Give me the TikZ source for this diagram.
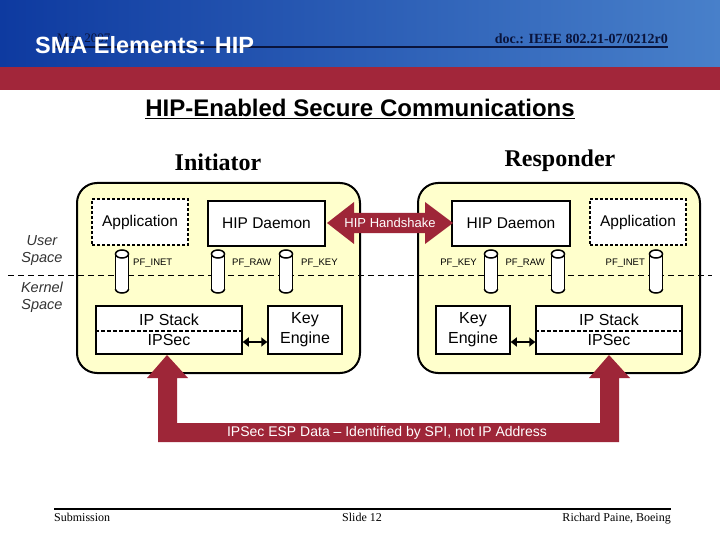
\documentclass[tikz,border=0pt]{standalone}
\usepackage{fontspec}
\setmainfont{Liberation Serif}
\setsansfont{Liberation Sans}
\usetikzlibrary{arrows.meta}
\definecolor{hdrL}{RGB}{14,58,160}
\definecolor{hdrR}{RGB}{72,128,202}
\definecolor{band}{RGB}{162,38,58}
\definecolor{navy}{RGB}{10,20,60}
\definecolor{boxfill}{RGB}{255,255,204}
\definecolor{darkred}{RGB}{158,38,56}
\tikzset{
  hostbox/.style={draw=black, line width=2pt, fill=boxfill, rounded corners=20pt},
  compbox/.style={draw=black, line width=1.5pt, fill=white, inner sep=0pt, font=\sffamily\fontsize{15.5}{16}\selectfont},
  appbox/.style={compbox, dash pattern=on 3pt off 2pt},
  pipe/.pic={
    \fill[white] (-6.5,-17.5) rectangle (6.5,17.5);
    \fill[white] (0,17.5) ellipse (6.5 and 4);
    \begin{scope}
      \clip (-9,17.5) rectangle (9,24);
      \draw[line width=1.5pt] (0,17.5) ellipse (6.5 and 4);
    \end{scope}
    \draw[line width=1.5pt] (-6.5,-17.5) -- (-6.5,17.5) (6.5,-17.5) -- (6.5,17.5);
    \draw[line width=1.5pt, fill=white] (0,-17.5) ellipse (6.5 and 4);
  },
  pflabel/.style={font=\sffamily\fontsize{9.5}{10}\selectfont, inner sep=0pt},
  spacelabel/.style={font=\sffamily\itshape\fontsize{14.5}{17}\selectfont, text=black!80, align=center, inner sep=0pt},
  boxtext/.style={font=\sffamily\fontsize{16}{18}\selectfont, inner sep=0pt, align=center},
  blockarrow/.style={fill=darkred, draw=none},
  smallarrow/.style={{Triangle[length=6pt,width=9pt]}-{Triangle[length=6pt,width=9pt]}, line width=2.5pt, black}
}
\begin{document}
\begin{tikzpicture}[x=1pt,y=-1pt]
\useasboundingbox (0,0) rectangle (720,540);
\fill[white] (0,0) rectangle (720,540);
% header
\shade[left color=hdrL, right color=hdrR] (0,0) rectangle (720,67);
\fill[band] (0,67) rectangle (720,90);
\node[anchor=base west, inner sep=0pt, font=\fontsize{13}{13}\selectfont, text=navy] (date) at (57,43) {May 2007};
\coordinate (rulel) at (55,47);
\coordinate (ruler) at (668,47);
\draw[navy, line width=1.6pt] (rulel) -- (ruler);
\node[anchor=base west, inner sep=0pt, font=\sffamily\bfseries\fontsize{23.5}{24}\selectfont, text=white] (title) at (35,54) {SMA Elements: HIP};
\node[anchor=base east, inner sep=0pt, font=\bfseries\fontsize{14}{14}\selectfont, text=navy] (doc) at (668,44) {doc.: IEEE 802.21-07/0212r0};
% heading
\node[anchor=base, inner sep=0pt, font=\sffamily\bfseries\fontsize{24}{24}\selectfont] (heading) at (360,117) {\underline{HIP-Enabled Secure Communications}};
\node[anchor=base, inner sep=0pt, font=\bfseries\fontsize{24}{24}\selectfont] (init) at (218,171) {Initiator};
\node[anchor=base, inner sep=0pt, font=\bfseries\fontsize{24}{24}\selectfont] (resp) at (560,167) {Responder};
% host boxes
\draw[hostbox] (77,183) rectangle (360,373);
\draw[hostbox] (418,183) rectangle (700,373);
% user / kernel divider
\coordinate (divl) at (8,275);
\coordinate (divr) at (712,275);
\draw[black, line width=1pt, dash pattern=on 6pt off 4pt] (divl) -- (divr);
\node[spacelabel] (user) at (42,251) {User\\Space};
\node[spacelabel] (kernel) at (42,297) {Kernel\\Space};
% initiator components
\node[appbox, minimum width=96pt, minimum height=46pt] (appL) at (140,222) {Application};
\node[compbox, minimum width=117pt, minimum height=45pt] (hipL) at (266.5,223.5) {HIP Daemon};
\pic (inetL) at (122,271.5) {pipe};
\pic (rawL) at (218,271.5) {pipe};
\pic (keyL) at (286,271.5) {pipe};
\node[pflabel, anchor=west] (inetLt) at (133,263) {PF\_INET};
\node[pflabel, anchor=west] (rawLt) at (232,263) {PF\_RAW};
\node[pflabel, anchor=west] (keyLt) at (301,263) {PF\_KEY};
\node[compbox, minimum width=146pt, minimum height=48pt] (ipL) at (169,330) {};
\draw[black, line width=1.5pt, dash pattern=on 4pt off 2pt] (ipL.west |- 0,331) -- (ipL.east |- 0,331);
\node[boxtext] (ipLa) at (169,320) {IP Stack};
\node[boxtext] (ipLb) at (169,340) {IPSec};
\node[compbox, minimum width=74pt, minimum height=48pt, font=\sffamily\fontsize{16}{20}\selectfont, align=center] (keL) at (305,330) {Key\\Engine};
\draw[smallarrow] (ipL.east |- 0,342) -- (keL.west |- 0,342);
% responder components
\node[compbox, minimum width=118pt, minimum height=45pt] (hipR) at (511,223.5) {HIP Daemon};
\node[appbox, minimum width=96pt, minimum height=46pt] (appR) at (638,222) {Application};
\pic (keyR) at (491,271.5) {pipe};
\pic (rawR) at (558,271.5) {pipe};
\pic (inetR) at (656,271.5) {pipe};
\node[pflabel, anchor=east] (keyRt) at (477,263) {PF\_KEY};
\node[pflabel, anchor=east] (rawRt) at (545,263) {PF\_RAW};
\node[pflabel, anchor=east] (inetRt) at (645,263) {PF\_INET};
\node[compbox, minimum width=74pt, minimum height=48pt, font=\sffamily\fontsize{16}{20}\selectfont, align=center] (keR) at (473,330) {Key\\Engine};
\node[compbox, minimum width=146pt, minimum height=48pt] (ipR) at (609,330) {};
\draw[black, line width=1.5pt, dash pattern=on 4pt off 2pt] (ipR.west |- 0,331) -- (ipR.east |- 0,331);
\node[boxtext] (ipRa) at (609,320) {IP Stack};
\node[boxtext] (ipRb) at (609,340) {IPSec};
\draw[smallarrow] (keR.east |- 0,342) -- (ipR.west |- 0,342);
% HIP handshake double block arrow
\fill[blockarrow] (327,223) -- (354,202) -- (354,213) -- (425,213) -- (425,202) -- (453,223) -- (425,244) -- (425,233) -- (354,233) -- (354,244) -- cycle;
\node[font=\sffamily\fontsize{13}{13}\selectfont, text=white, inner sep=0pt] (hs) at (390,223) {HIP Handshake};
% ESP data U arrow
\fill[blockarrow] (167,355) -- (188,378) -- (177,378) -- (177,423) -- (600,423) -- (600,378) -- (589,378) -- (609,355) -- (630,378) -- (619,378) -- (619,442) -- (158,442) -- (158,378) -- (147,378) -- cycle;
\node[font=\sffamily\fontsize{14}{14}\selectfont, text=white, inner sep=0pt] (esp) at (387,433) {IPSec ESP Data -- Identified by SPI, not IP Address};
% footer
\coordinate (footl) at (54,509);
\coordinate (footr) at (671,509);
\draw[black, line width=2pt] (footl) -- (footr);
\node[anchor=base west, inner sep=0pt, font=\fontsize{12}{12}\selectfont] (sub) at (54,521) {Submission};
\node[anchor=base, inner sep=0pt, font=\fontsize{12}{12}\selectfont] (slide) at (362,521) {Slide 12};
\node[anchor=base east, inner sep=0pt, font=\fontsize{12}{12}\selectfont] (auth) at (671,521) {Richard Paine, Boeing};
\end{tikzpicture}
\end{document}
